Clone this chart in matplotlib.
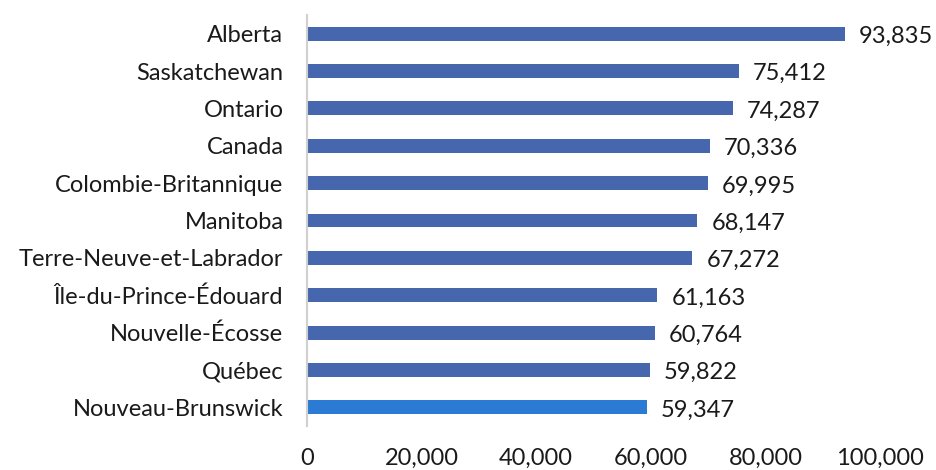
import matplotlib.pyplot as plt

plt.rcParams['font.family'] = ['Lato', 'DejaVu Sans']

# provinces, bottom to top as drawn
regions = ['Nouveau-Brunswick', 'Québec', 'Nouvelle-Écosse', 'Île-du-Prince-Édouard',
           'Terre-Neuve-et-Labrador', 'Manitoba', 'Colombie-Britannique', 'Canada',
           'Ontario', 'Saskatchewan', 'Alberta']
values = [59347, 59822, 60764, 61163, 67272, 68147, 69995, 70336, 74287, 75412, 93835]
xticks = [0, 20000, 40000, 60000, 80000, 100000]

colors = ['#2b7bd4'] + ['#4667ae'] * (len(values) - 1)

fig = plt.figure(figsize=(9.37, 4.70), dpi=100)
ax = fig.add_axes([307 / 937, 44 / 470, 573 / 937, 411 / 470])

ax.barh(range(len(values)), values, height=0.37, color=colors)

for i, v in enumerate(values):
    ax.annotate(f'{v:,}', (v, i), xytext=(10, -2), textcoords='offset points',
                ha='left', va='center', fontsize=17, color='#1a1a1a')

ax.set_xlim(0, 100000)
ax.set_ylim(-0.5, len(values) - 0.5)
ax.set_yticks(range(len(values)))
ax.set_yticklabels(regions, fontsize=17, color='#1a1a1a')
ax.set_xticks(xticks)
ax.set_xticklabels([f'{t:,}' for t in xticks], fontsize=17, color='#1a1a1a')
ax.tick_params(axis='both', length=0)
ax.tick_params(axis='x', pad=16)
ax.tick_params(axis='y', pad=17)

for s in ['top', 'right', 'bottom']:
    ax.spines[s].set_visible(False)
ax.spines['left'].set_color('#d0d0d0')
ax.spines['left'].set_linewidth(1.5)

fig.savefig('out.png', dpi=100)
